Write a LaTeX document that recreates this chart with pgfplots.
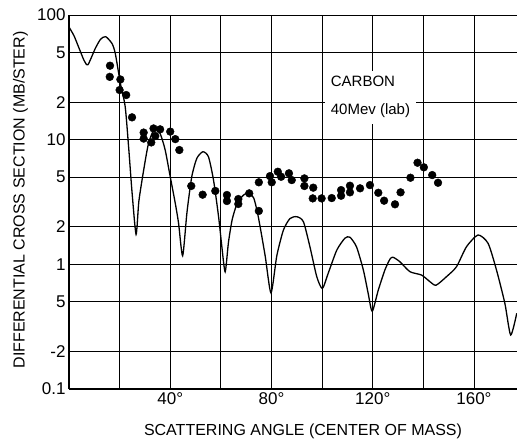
\documentclass[border=0pt]{standalone}
\usepackage{fontspec}
\setmainfont{Liberation Sans}
\usepackage{pgfplots}
\pgfplotsset{compat=1.18}
\begin{document}
\begin{tikzpicture}
\begin{axis}[
  name=ax, at={(0pt,0pt)}, anchor=south west,
  scale only axis, width=448pt, height=374pt,
  xmin=0, xmax=177, ymode=log, ymin=0.1, ymax=100,
  axis x line*=bottom, axis y line*=left,
  axis line style={-, line width=1.4pt},
  xtick={0,20,...,160},
  xticklabels={,,40°,,80°,,120°,,160°},
  ytick={0.1,0.2,0.5,1,2,5,10,20,50,100},
  yticklabels={0.1,-2,5,1,2,5,10,2,5,100},
  grid=major, major grid style={black, line width=0.9pt},
  major tick length=0pt, yminorticks=false,
  tick label style={font=\fontsize{17}{17}\selectfont},
  xlabel={SCATTERING ANGLE (CENTER OF MASS)},
  ylabel={DIFFERENTIAL CROSS SECTION (MB/STER)},
  every axis x label/.style={at={(axis description cs:0.5,0)}, anchor=center, yshift=-42pt, xshift=10pt, scale=1.6},
  every axis y label/.style={at={(axis description cs:0,0.5)}, anchor=center, xshift=-48.5pt, yshift=2pt, rotate=90, scale=1.6},
]
\addplot[black, line width=1.3pt, smooth, tension=0.4, mark=none] table {
x y
0 80
2 68
4 54
6 43
7.5 40
10.4 54
12.5 64
14.5 67
17 59
18.3 49
20.3 28.3
22.2 18.4
23.6 8.5
24.9 3.8
26.5 1.74
27.6 3.2
29.5 5.7
31.4 9.3
33.8 12.3
36 11.2
38 8.26
40 5.04
42 3.08
43.3 2.13
44.9 1.17
46.6 2.6
48.5 5.04
50.5 7.08
52.9 8.0
55.1 7.29
57.1 4.74
59.1 2.41
60.4 1.38
61.7 0.87
63 1.5
64.5 2.3
66.5 3.1
69 3.6
71 3.75
73 3.4
74.8 2.4
77.5 1.17
79.8 0.59
82.1 1.17
84.7 1.88
87.3 2.33
90 2.41
92.6 2.2
95.2 1.38
97.9 0.795
100.1 0.64
102.4 0.847
105.8 1.3
109 1.62
111 1.65
113.6 1.38
116.3 0.9
118.2 0.585
119.8 0.42
122.2 0.622
124.8 0.9
126.8 1.1
128 1.14
130.7 1.05
134.7 0.873
139.3 0.82
142.6 0.726
145 0.68
149.1 0.795
153.1 0.957
157 1.38
161.6 1.72
165.6 1.47
168.9 0.9
172.2 0.487
174.5 0.271
176.9 0.405
};
\addplot[only marks, mark=*, mark size=3.9pt, black] table {
x y
16.2 39.2
16.1 31.9
20.3 30.4
20.0 25.0
22.6 22.8
24.9 15.1
29.5 11.4
29.5 10.2
32.5 9.5
33.4 12.3
34.1 10.7
36.0 12.1
40.0 11.6
42.0 10.1
43.6 8.26
48.3 4.25
52.8 3.62
57.8 3.88
62.4 3.6
62.4 3.22
66.9 3.34
66.9 3.05
71.2 3.71
75.0 4.55
75.0 2.68
79.4 5.1
80.1 4.55
82.5 5.53
83.8 5.04
86.9 5.37
88.0 4.74
93.0 4.89
93.0 4.25
96.5 4.12
96.3 3.38
99.8 3.38
103.8 3.4
107.5 3.94
107.5 3.55
111.0 4.27
111.0 3.78
115.0 4.07
118.9 4.32
122.2 3.75
124.5 3.24
128.8 3.03
131.0 3.78
134.9 4.95
137.7 6.53
140.2 6.0
143.5 5.2
145.8 4.51
};
\node[fill=white, inner xsep=6pt, inner ysep=6pt, anchor=north west, align=left, font=\fontsize{15}{28}\selectfont] at (axis cs:101,36) {CARBON\\40Mev (lab)};
\end{axis}
\pgfresetboundingbox
\path[use as bounding box] (-69pt,-50pt) rectangle (448pt,389pt);
\end{tikzpicture}
\end{document}
